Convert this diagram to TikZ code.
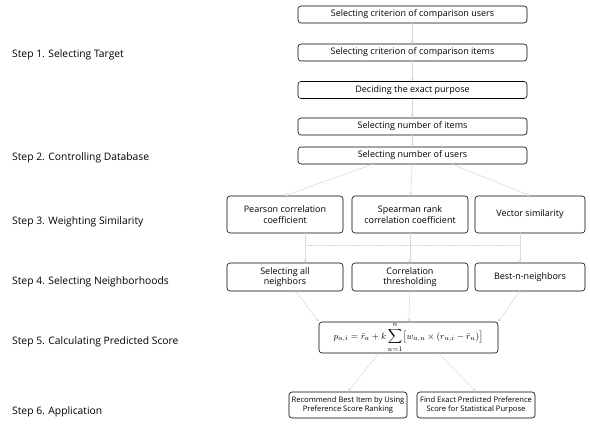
\documentclass[tikz,border=0pt]{standalone}
\usepackage{fontspec}
\setmainfont{Open Sans}
\usetikzlibrary{arrows.meta}
\begin{document}
\begin{tikzpicture}[x=1pt,y=-1pt,
  box/.style={draw=black,line width=0.6pt,rounded corners=3pt,inner sep=1pt,align=center,font=\fontsize{9}{10.5}\selectfont},
  appbox/.style={box,font=\fontsize{7.6}{9}\selectfont},
  steplabel/.style={anchor=west,inner sep=0pt,font=\fontsize{10.3}{12}\selectfont},
  conn/.style={draw=gray!30,line width=0.5pt,-{Stealth[length=3.5pt,width=3.5pt]}},
  mergeline/.style={draw=gray!35,line width=0.5pt,densely dotted}]
\useasboundingbox[fill=white] (0,0) rectangle (590,427);
% step labels
\node[steplabel] (s1) at (12,55) {Step 1. Selecting Target};
\node[steplabel] (s2) at (12,158) {Step 2. Controlling Database};
\node[steplabel] (s3) at (12,222) {Step 3. Weighting Similarity};
\node[steplabel] (s4) at (12,282) {Step 4. Selecting Neighborhoods};
\node[steplabel] (s5) at (12,342) {Step 5. Calculating Predicted Score};
\node[steplabel] (s6) at (12,412) {Step 6. Application};
% step 1 and 2 boxes
\node[box,minimum width=229pt,minimum height=17pt] (b1) at (412.5,14.5) {Selecting criterion of comparison users};
\node[box,minimum width=229pt,minimum height=17pt] (b2) at (412.5,52.5) {Selecting criterion of comparison items};
\node[box,minimum width=229pt,minimum height=17pt] (b3) at (412.5,90) {Deciding the exact purpose};
\node[box,minimum width=229pt,minimum height=17pt] (b4) at (412.5,126.5) {Selecting number of items};
\node[box,minimum width=229pt,minimum height=17pt] (b5) at (412.5,155.5) {Selecting number of users};
% step 3
\node[box,minimum width=116pt,minimum height=37pt] (w1) at (285,214.5) {Pearson correlation\\coefficient};
\node[box,minimum width=116pt,minimum height=37pt] (w2) at (410,214.5) {Spearman rank\\correlation coefficient};
\node[box,minimum width=110pt,minimum height=37pt] (w3) at (530,214.5) {Vector similarity};
% step 4
\node[box,minimum width=116pt,minimum height=28pt] (n1) at (285,277) {Selecting all\\neighbors};
\node[box,minimum width=116pt,minimum height=28pt] (n2) at (410,277) {Correlation\\thresholding};
\node[box,minimum width=110pt,minimum height=28pt] (n3) at (530,277) {Best-n-neighbors};
% step 5
\node[box,minimum width=179pt,minimum height=31pt,inner sep=0pt,font=\fontsize{9.5}{10}\selectfont] (f) at (408.5,337.5)
  {$p_{a,i}=\bar{r}_a+k\displaystyle\sum_{u=1}^{n}\bigl[w_{a,u}\times(r_{u,i}-\bar{r}_u)\bigr]$};
% step 6
\node[appbox,minimum width=118pt,minimum height=26pt] (a1) at (348,405) {Recommend Best Item by Using\\Preference Score Ranking};
\node[appbox,minimum width=118pt,minimum height=26pt] (a2) at (476,405) {Find Exact Predicted Preference\\Score for Statistical Purpose};
% connectors
\draw[conn] (b1) -- (b2);
\draw[conn] (b2) -- (b3);
\draw[conn] (b3) -- (b4);
\draw[conn] (b4) -- (b5);
\draw[conn] (b5.south) ++(-40,0) coordinate (b5l) (b5l) -- (w1.north);
\draw[conn] (b5) -- (w2);
\draw[conn] (b5.south) ++(40,0) coordinate (b5r) (b5r) -- (w3.north);
\coordinate (ml) at (305,245);
\coordinate (mr) at (520,245);
\draw[mergeline] (ml) -- (mr);
\draw[conn] (w1.south -| ml) -- (n1.north -| ml);
\draw[conn] (w2) -- (n2);
\draw[conn] (w3.south -| mr) -- (n3.north -| mr);
\draw[conn] (n1) -- (f.north west);
\draw[conn] (n2) -- (f);
\draw[conn] (n3) -- (f.north east);
\draw[conn] (f.south) ++(-30,0) coordinate (fl) (fl) -- (a1.north);
\draw[conn] (f.south) ++(30,0) coordinate (fr) (fr) -- (a2.north);
\end{tikzpicture}
\end{document}
